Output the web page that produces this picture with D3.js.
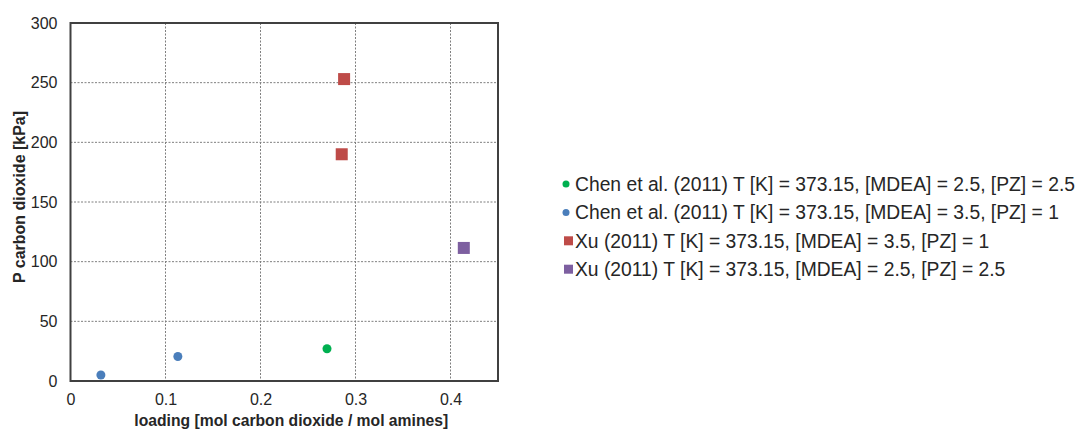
<!DOCTYPE html>
<html>
<head>
<meta charset="utf-8">
<script src="https://cdn.jsdelivr.net/npm/d3@7"></script>
<style>
  html, body { margin: 0; padding: 0; background: #fff; }
  svg text { font-family: "Liberation Sans", Arial, sans-serif; fill: #262626; }
</style>
</head>
<body>
<svg id="chart" width="1078" height="431"></svg>
<script>
// Series: CO2 loading (mol CO2 / mol amines) vs CO2 partial pressure (kPa)
const seriesNames = [
  "Chen et al. (2011) T [K] = 373.15, [MDEA] = 2.5, [PZ] = 2.5",
  "Chen et al. (2011) T [K] = 373.15, [MDEA] = 3.5, [PZ] = 1",
  "Xu (2011) T [K] = 373.15, [MDEA] = 3.5, [PZ] = 1",
  "Xu (2011) T [K] = 373.15, [MDEA] = 2.5, [PZ] = 2.5"
];
const seriesShapes = ["circle", "circle", "square", "square"];
const seriesColors = ["#00b050", "#4a7ebb", "#be4b48", "#7d5fa0"];
const chenA_x = [0.270];
const chenA_y = [27];
const chenB_x = [0.032, 0.113];
const chenB_y = [5, 20.5];
const xuA_x = [0.288, 0.2855];
const xuA_y = [253, 190];
const xuB_x = [0.414];
const xuB_y = [111.5];
const xTicks = [0, 0.1, 0.2, 0.3, 0.4];
const yTicks = [0, 50, 100, 150, 200, 250, 300];

const seriesX = [chenA_x, chenB_x, xuA_x, xuB_x];
const seriesY = [chenA_y, chenB_y, xuA_y, xuB_y];

const svg = d3.select("#chart");
const plot = { left: 70.5, right: 498, top: 23, bottom: 381 };

const x = d3.scaleLinear().domain([0, 0.45]).range([plot.left, plot.right]);
const y = d3.scaleLinear().domain([0, 300]).range([plot.bottom, plot.top]);

// Gridlines
const grid = svg.append("g");
grid.selectAll("line.gx").data(xTicks.filter(d => d > 0)).join("line")
  .attr("x1", d => x(d)).attr("x2", d => x(d))
  .attr("y1", plot.top).attr("y2", plot.bottom)
  .attr("stroke", "#7f7f7f").attr("stroke-width", 1).attr("stroke-dasharray", "2,1.5");
grid.selectAll("line.gy").data(yTicks.filter(d => d > 0 && d < 300)).join("line")
  .attr("x1", plot.left).attr("x2", plot.right)
  .attr("y1", d => y(d)).attr("y2", d => y(d))
  .attr("stroke", "#7f7f7f").attr("stroke-width", 1).attr("stroke-dasharray", "2,1.5");

// Plot frame
svg.append("rect")
  .attr("x", plot.left).attr("y", plot.top)
  .attr("width", plot.right - plot.left).attr("height", plot.bottom - plot.top)
  .attr("fill", "none").attr("stroke", "#404040").attr("stroke-width", 2);

// Axes (labels only; frame drawn above)
const xAxis = svg.append("g").attr("transform", `translate(0,${plot.bottom})`)
  .call(d3.axisBottom(x).tickValues(xTicks).tickFormat(d => d === 0 ? "0" : d3.format(".1f")(d)).tickSize(0).tickPadding(13));
const yAxis = svg.append("g").attr("transform", `translate(${plot.left},0)`)
  .call(d3.axisLeft(y).tickValues(yTicks).tickSize(0).tickPadding(13));
[xAxis, yAxis].forEach(a => {
  a.select(".domain").remove();
  a.selectAll("text").attr("font-size", 16).attr("fill", "#262626")
    .style("font-family", '"Liberation Sans", Arial, sans-serif');
});

// Axis titles
svg.append("text")
  .attr("x", (plot.left + plot.right) / 2 + 7).attr("y", 426)
  .attr("text-anchor", "middle").attr("font-size", 15.7).attr("font-weight", "bold")
  .text("loading [mol carbon dioxide / mol amines]");
svg.append("text")
  .attr("transform", "translate(25,197) rotate(-90)")
  .attr("text-anchor", "middle").attr("font-size", 16).attr("font-weight", "bold")
  .text("P carbon dioxide [kPa]");

// Markers
function drawMarker(g, shape, color, cx, cy, size) {
  if (shape === "circle") {
    g.append("circle").attr("cx", cx).attr("cy", cy).attr("r", size / 2).attr("fill", color);
  } else {
    g.append("rect").attr("x", cx - size / 2).attr("y", cy - size / 2)
      .attr("width", size).attr("height", size).attr("fill", color);
  }
}

const marks = svg.append("g");
seriesNames.forEach((name, i) => {
  seriesX[i].forEach((vx, j) => {
    const shape = seriesShapes[i];
    drawMarker(marks, shape, seriesColors[i], x(vx), y(seriesY[i][j]), shape === "circle" ? 9 : 12);
  });
});

// Legend
const legend = svg.append("g").attr("transform", "translate(565,184)");
seriesNames.forEach((name, i) => {
  const row = legend.append("g").attr("transform", `translate(0,${i * 28.4})`);
  const shape = seriesShapes[i];
  drawMarker(row, shape, seriesColors[i], shape === "circle" ? 1 : 3.5, 0, shape === "circle" ? 7 : 9);
  row.append("text").attr("x", 10).attr("y", 0).attr("dy", "0.35em")
    .attr("font-size", 19.3).text(name);
});
</script>
</body>
</html>
